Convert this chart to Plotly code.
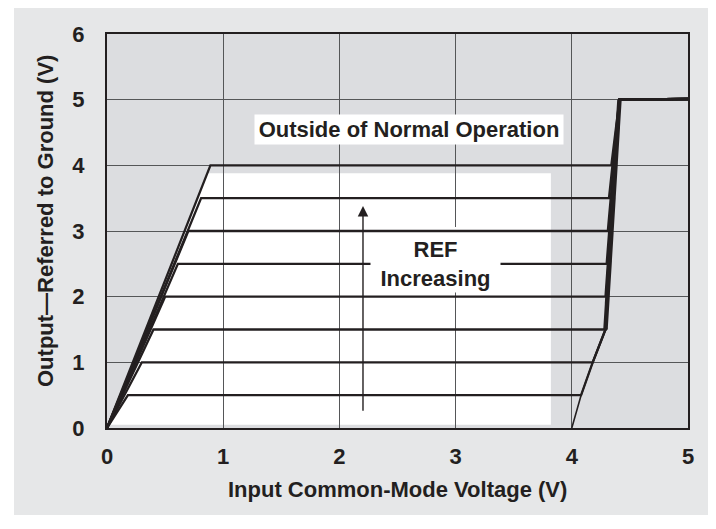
import plotly.graph_objects as go

# ---- data ----
ref_levels = [0.5, 1.0, 1.5, 2.0, 2.5, 3.0, 3.5, 4.0]            # output level of each REF curve (V)
left_knee_x = [0.18, 0.30, 0.40, 0.50, 0.61, 0.70, 0.81, 0.89]    # input where curve reaches its level
right_knee_x = [4.08, 4.18, 4.29, 4.29, 4.30, 4.31, 4.32, 4.34]   # input where curve leaves its level
lower_limit_x = [4.00, 4.08, 4.18, 4.29]                          # right-hand limit, lower part
lower_limit_y = [0.0, 0.5, 1.0, 1.5]
upper_limit_x = [4.29, 4.41]                                      # right-hand limit, steep part
upper_limit_y = [1.5, 5.0]
top_x = [4.41, 5.00]                                              # saturated output
top_y = [5.0, 5.01]
x_ticks = [0, 1, 2, 3, 4, 5]
y_ticks = [0, 1, 2, 3, 4, 5, 6]

INK = "#231f20"
FONT = dict(family="Liberation Sans, Arial, sans-serif", size=22, color=INK, weight="bold")

# the page body has an 8px margin, so the figure sits at (8, 8) in the window
OFF = 8
W, H = 716 - OFF, 529 - OFF
ML, MR, MT, MB = 107 - OFF, 716 - 688, 34 - OFF, H - (428 - OFF)
PW, PH = W - ML - MR, H - MT - MB


def px(xp):
    """page pixel x -> paper coordinate"""
    return (xp - OFF - ML) / PW


def py(yp):
    """page pixel y -> paper coordinate"""
    return (H - MB - (yp - OFF)) / PH


fig = go.Figure()

bnd_x = lower_limit_x + upper_limit_x[1:] + top_x[1:]
bnd_y = lower_limit_y + upper_limit_y[1:] + top_y[1:]
for lvl, xl, xr in zip(ref_levels, left_knee_x, right_knee_x):
    xs = [0, xl, xr]
    ys = [0, lvl, lvl]
    for bx, by in zip(bnd_x, bnd_y):
        if by > lvl:
            xs.append(bx)
            ys.append(by)
    fig.add_trace(go.Scatter(x=xs, y=ys, mode="lines",
                             line=dict(color=INK, width=2.3),
                             hoverinfo="skip", showlegend=False))

fig.add_trace(go.Scatter(x=lower_limit_x, y=lower_limit_y, mode="lines",
                         line=dict(color=INK, width=1.6), hoverinfo="skip", showlegend=False))
fig.add_trace(go.Scatter(x=upper_limit_x, y=upper_limit_y, mode="lines",
                         line=dict(color=INK, width=4.5), hoverinfo="skip", showlegend=False))
fig.add_trace(go.Scatter(x=top_x, y=top_y, mode="lines",
                         line=dict(color=INK, width=2.3), hoverinfo="skip", showlegend=False))

shapes = [
    # white page margins around the grey panel
    dict(type="rect", xref="paper", yref="paper", x0=px(OFF), x1=px(14), y0=py(529), y1=py(OFF),
         fillcolor="white", line_width=0, layer="below"),
    dict(type="rect", xref="paper", yref="paper", x0=px(OFF), x1=px(716), y0=py(529), y1=py(515),
         fillcolor="white", line_width=0, layer="below"),
    # normal operating region (white)
    dict(type="path", xref="x", yref="y",
         path="M 0.03 0.05 L 0.86 3.88 L 3.82 3.88 L 3.82 0.05 Z",
         fillcolor="white", line_width=0, layer="below"),
    # white patch behind the REF label covering the gridline
    dict(type="rect", xref="x", yref="y", x0=2.27, x1=3.38, y0=2.07, y1=3.06,
         fillcolor="white", line_width=0, layer="between"),
]

annotations = [
    dict(text="Outside of Normal Operation", x=2.595, y=4.54, xref="x", yref="y",
         showarrow=False, bgcolor="white", width=306, height=27, font=FONT),
    dict(text="REF<br>Increasing", x=2.827, y=2.5, xref="x", yref="y",
         showarrow=False, bgcolor="white", width=127, height=54, font=FONT),
    dict(text="", x=2.203, y=3.38, ax=2.203, ay=0.24, xref="x", yref="y",
         axref="x", ayref="y", showarrow=True, arrowhead=2, arrowsize=1.5,
         arrowwidth=1.4, arrowcolor=INK, standoff=0),
    dict(text="Input Common-Mode Voltage (V)", xref="paper", yref="paper",
         x=0.5, y=py(490), showarrow=False, font=FONT, yanchor="middle"),
    dict(text="Output\u2014Referred to Ground (V)", xref="paper", yref="paper",
         x=px(45), y=py(221), showarrow=False, font=FONT, textangle=-90,
         xanchor="center", yanchor="middle"),
]

axis_common = dict(showgrid=True, gridcolor="#555658", gridwidth=1, zeroline=False,
                   showline=True, mirror=True, linecolor=INK, linewidth=2,
                   ticks="outside", tickcolor="rgba(0,0,0,0)", tickfont=FONT)

fig.update_layout(
    width=W, height=H, autosize=False,
    margin=dict(l=ML, r=MR, t=MT, b=MB, pad=0),
    paper_bgcolor="#e6e7e8", plot_bgcolor="#dcdde0",
    shapes=shapes, annotations=annotations, showlegend=False,
    xaxis=dict(range=[0, 5], tickvals=x_ticks, ticklen=8, **axis_common),
    yaxis=dict(range=[0, 6], tickvals=y_ticks, ticklen=16, **axis_common),
)

fig.write_html("out.html")
